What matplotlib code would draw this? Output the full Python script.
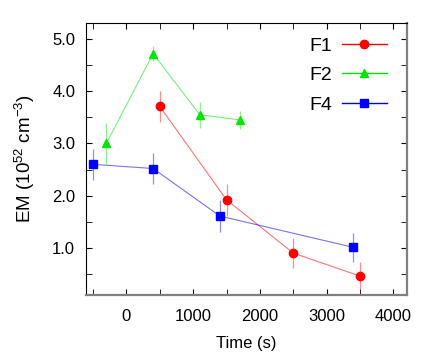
import numpy as np
import matplotlib.pyplot as plt
from matplotlib.ticker import MultipleLocator

plt.rcParams['font.family'] = ['Liberation Sans', 'DejaVu Sans']
plt.rcParams['mathtext.fontset'] = 'custom'
plt.rcParams['mathtext.rm'] = 'Liberation Sans'
plt.rcParams['mathtext.it'] = 'Liberation Sans'

# Data
f1_t = [500, 1500, 2500, 3500]
f1_em = [3.71, 1.92, 0.90, 0.46]
f1_err = [0.29, 0.30, 0.29, 0.27]

f2_t = [-300, 400, 1100, 1700]
f2_em = [3.00, 4.72, 3.55, 3.45]
f2_err = [0.40, 0.14, 0.25, 0.18]

f4_t = [-500, 400, 1400, 3400]
f4_em = [2.60, 2.52, 1.61, 1.01]
f4_err = [0.30, 0.29, 0.31, 0.28]

series = [
    ('F1', f1_t, f1_em, f1_err, '#ff0000', 'o', 6.0),
    ('F2', f2_t, f2_em, f2_err, '#00e600', '^', 6.0),
    ('F4', f4_t, f4_em, f4_err, '#0000ff', 's', 6.0),
]

fig = plt.figure(figsize=(4.36, 3.54), dpi=100)
ax = fig.add_axes([0.198, 0.167, 0.735, 0.767])

handles = []
for name, t, em, err, col, mk, ms in series:
    ax.errorbar(t, em, yerr=err, fmt='none', ecolor=col, elinewidth=0.9,
                alpha=0.45, capsize=0)
    ax.plot(t, em, '-', color=col, lw=0.8, alpha=0.55)
    ax.plot(t, em, mk, color=col, ms=ms, mec=col)
    h, = ax.plot([], [], '-', color=col, lw=1.0, alpha=0.55,
                 marker=mk, ms=ms, mfc=col, mec=col)
    handles.append(h)

leg = ax.legend(handles, [s[0] for s in series], loc='upper right',
                frameon=False, markerfirst=False, fontsize=14,
                labelspacing=0.62, handlelength=2.3, handletextpad=0.5,
                borderaxespad=0.3, bbox_to_anchor=(0.98, 1.0))
for lh in leg.legend_handles:
    lh.set_alpha(None)

ax.set_xlim(-600, 4200)
ax.set_ylim(0.1, 5.3)
ax.xaxis.set_major_locator(MultipleLocator(1000))
ax.xaxis.set_minor_locator(MultipleLocator(500))
ax.yaxis.set_major_locator(MultipleLocator(1.0))
ax.yaxis.set_minor_locator(MultipleLocator(0.5))
ax.yaxis.set_major_formatter(plt.FuncFormatter(lambda v, p: f'{v:.1f}'))
ax.tick_params(which='both', direction='in', top=True, right=True,
               labelsize=12, pad=8)
ax.tick_params(axis='x', which='both', pad=10)
ax.tick_params(which='major', length=4)
ax.tick_params(which='minor', length=4)

for side in ['bottom', 'right']:
    ax.spines[side].set_color('#808080')
    ax.spines[side].set_linewidth(1.6)

ax.set_xlabel('Time (s)', fontsize=12, labelpad=9)
ax.set_ylabel('EM (10$^{52}$ cm$^{-3}$)', fontsize=13.5, labelpad=11)

fig.savefig('out.png', dpi=100)
